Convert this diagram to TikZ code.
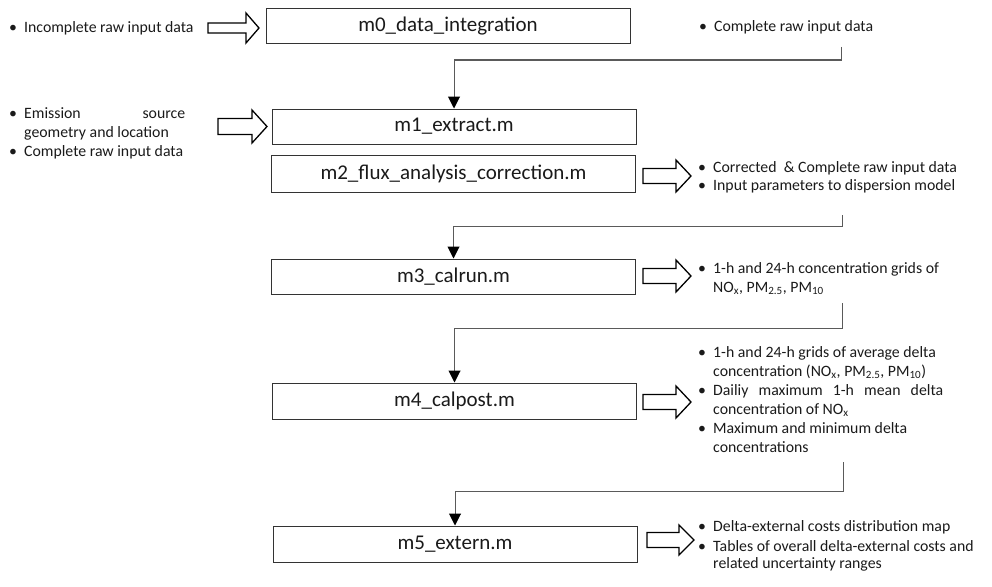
\documentclass[tikz,border=0pt]{standalone}
\usepackage{fontspec}
\setmainfont{Carlito}
\usetikzlibrary{arrows.meta}
\definecolor{boxline}{HTML}{333333}
\definecolor{connline}{HTML}{5A5A5A}
\definecolor{txt}{HTML}{1A1A1A}
\newcommand\bul{\makebox[15pt][l]{\textbullet}}
\newcommand\ind{\hspace*{15pt}}
% block arrow: x1, x2 (tip), y, shaft half, head half, head length
\newcommand\barrow[6]{%
  \draw[blockarrow] (#1,#3-#4) -- (#2-#6,#3-#4) -- (#2-#6,#3-#5) -- (#2,#3)
    -- (#2-#6,#3+#5) -- (#2-#6,#3+#4) -- (#1,#3+#4) -- cycle;}
\tikzset{
  modbox/.style={draw=boxline, line width=1pt, fill=white, inner sep=0pt,
    minimum width=364pt, minimum height=35pt,
    font=\fontsize{21}{24}\selectfont, text=txt},
  conn/.style={draw=connline, line width=1pt, -{Triangle[width=12pt,length=12pt,color=black]}},
  sidetext/.style={inner sep=0pt, anchor=base west, font=\fontsize{15.8}{19}\selectfont, text=txt},
  blockarrow/.style={draw=black, line width=1.3pt, fill=white, line join=miter},
}
\begin{document}
\begin{tikzpicture}[x=1pt,y=-1pt]
\useasboundingbox (0,0) rectangle (992,586);

% module boxes
\node[modbox] (m0) at (448,26.5) {m0\_data\_integration};
\node[modbox] (m1) at (454,126.5) {m1\_extract.m};
\node[modbox, minimum height=37pt] (m2) at (453.5,173.5) {m2\_flux\_analysis\_correction.m};
\node[modbox] (m3) at (453.5,276.5) {m3\_calrun.m};
\node[modbox, minimum height=36pt] (m4) at (454.5,401) {m4\_calpost.m};
\node[modbox, minimum height=36pt] (m5) at (455,544) {m5\_extern.m};

% left texts
\node[sidetext] (t0) at (9,33) {\parbox[t]{200pt}{\bul Incomplete raw input data}};
\node[sidetext] (t1) at (9,118) {\parbox[t]{200pt}{\bul\makebox[161pt][s]{Emission source}\\
  \ind geometry and location\\
  \bul Complete raw input data}};

% right texts
\node[sidetext] (r0) at (699,32) {\parbox[t]{280pt}{\bul Complete raw input data}};
\node[sidetext, font=\fontsize{15.8}{18}\selectfont] (r2) at (698,172) {\parbox[t]{280pt}{\bul Corrected\ \ \& Complete raw input data\\
  \bul Input parameters to dispersion model}};
\node[sidetext] (r3) at (698,273) {\parbox[t]{280pt}{\bul 1-h and 24-h concentration grids of\\
  \ind NO\textsubscript{x}, PM\textsubscript{2.5}, PM\textsubscript{10}}};
\node[sidetext] (r4) at (698,357) {\parbox[t]{280pt}{\bul 1-h and 24-h grids of average delta\\
  \ind concentration (NO\textsubscript{x}, PM\textsubscript{2.5}, PM\textsubscript{10})\\
  \bul\makebox[230pt][s]{Dailiy maximum 1-h mean delta}\\
  \ind concentration of NO\textsubscript{x}\\
  \bul Maximum and minimum delta\\
  \ind concentrations}};
\node[sidetext] (r5) at (698,531) {\parbox[t]{290pt}{\bul Delta-external costs distribution map\\[1pt]
  \bul Tables of overall delta-external costs and\\[-2pt]
  \ind related uncertainty ranges}};

% block arrows
\barrow{208}{259}{28}{5}{15}{13}
\barrow{218}{267}{126.5}{8}{16.5}{15}
\barrow{643}{691}{176}{7.5}{16}{15}
\barrow{643}{691}{276}{7.5}{16}{15}
\barrow{643}{691}{402}{7.5}{16}{15}
\barrow{647}{694}{540}{7.5}{15}{15}

% connectors
\coordinate (c0) at (841,47);
\coordinate (c1) at (842,215);
\coordinate (c2) at (842,303);
\coordinate (c3) at (843,462);
\draw[conn] (c0) -- ++(0,13) -| (m1.north);
\draw[conn] (c1) -- ++(0,11) -| (m3.north);
\draw[conn] (c2) -- ++(0,25) -| (m4.north);
\draw[conn] (c3) -- ++(0,29) -| (m5.north);
\end{tikzpicture}
\end{document}
